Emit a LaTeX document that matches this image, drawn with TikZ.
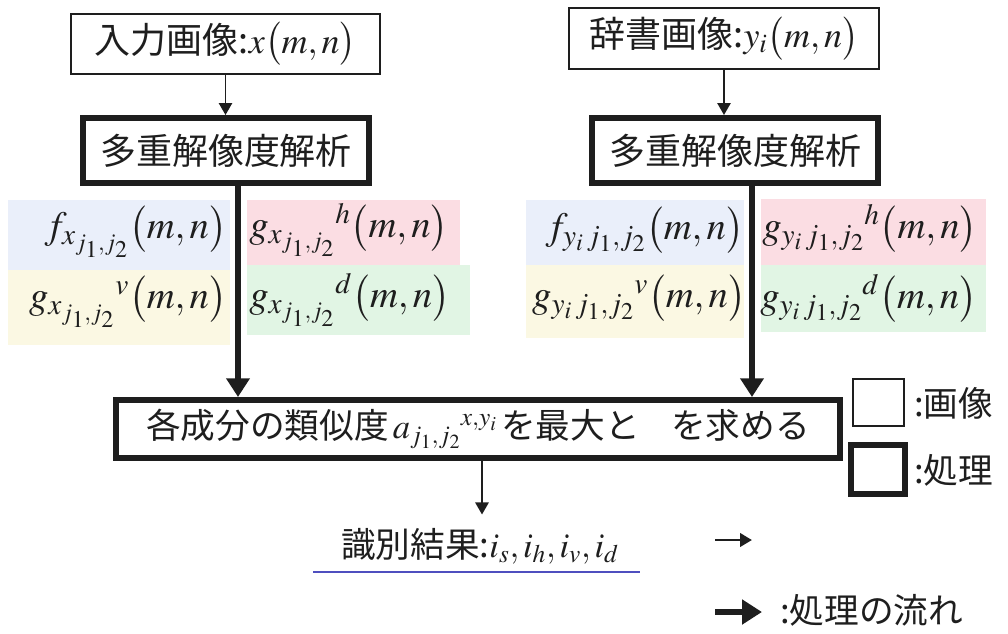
\documentclass[tikz,border=0pt]{standalone}
\usepackage{mathptmx}
\usepackage[no-math]{fontspec}
\setmainfont{Noto Sans CJK JP}
\usetikzlibrary{arrows.meta,calc}
\DeclareMathSizes{26}{26}{19}{15}
\DeclareMathSizes{27}{27}{20}{16}
\DeclareMathSizes{29}{29}{22}{18}
\definecolor{cblue}{HTML}{EAEFFA}
\definecolor{cyellow}{HTML}{FBF8E3}
\definecolor{cpink}{HTML}{FBDDE3}
\definecolor{cgreen}{HTML}{E1F5E4}
\definecolor{ulcol}{HTML}{4F4FBF}
\definecolor{ink}{HTML}{1E1E1E}
\def\pxu{0.75pt}
\tikzset{
  imgbox/.style={draw=ink, line width=1.5pt, fill=white, inner sep=0pt, text=ink,
    font=\fontsize{27}{30}\selectfont},
  procbox/.style={draw=ink, line width=4.5pt, fill=white, inner sep=0pt, text=ink,
    font=\fontsize{27}{30}\selectfont},
  mtext/.style={inner sep=0pt, text=ink, font=\fontsize{29}{32}\selectfont},
  ltext/.style={inner sep=0pt, text=ink, font=\fontsize{26}{29}\selectfont},
  thinarrow/.style={draw=ink, line width=1.3pt, -{Triangle[length=9pt,width=10pt]}},
  thickarrow/.style={draw=ink, line width=3.8pt, -{Triangle[length=14pt,width=17pt]}},
  legthin/.style={draw=ink, line width=2.2pt, -{Triangle[length=9pt,width=10pt]}},
  legthick/.style={draw=ink, line width=4.5pt, -{Triangle[length=15pt,width=18pt]}},
}
\begin{document}
\begin{tikzpicture}[x=0.75pt,y=-0.75pt]
\useasboundingbox (0,0) rectangle (1008,633);
% coloured backgrounds
\fill[cblue] (8,200) rectangle (230,270);
\fill[cyellow] (8,270) rectangle (230,345);
\fill[cpink] (247,200) rectangle (460,265);
\fill[cgreen] (247,265) rectangle (470,335);
\fill[cblue] (526,200) rectangle (744,265);
\fill[cyellow] (526,265) rectangle (744,338);
\fill[cpink] (761,199) rectangle (986,265);
\fill[cgreen] (761,265) rectangle (986,332);
% component texts
\node[mtext, anchor=east] (fx) at (227,232) {$f_{x_{j_1,j_2}}\bigl(m,n\bigr)$};
\node[mtext, anchor=east] (gxv) at (227,302) {$g_{x_{j_1,j_2}}{}^{v}\bigl(m,n\bigr)$};
\node[mtext, anchor=west] (gxh) at (249,230) {$g_{x_{j_1,j_2}}{}^{h}\bigl(m,n\bigr)$};
\node[mtext, anchor=west] (gxd) at (249,300) {$g_{x_{j_1,j_2}}{}^{d}\bigl(m,n\bigr)$};
\node[mtext, anchor=east] (fy) at (744,230) {$f_{y_i\,j_1,j_2}\bigl(m,n\bigr)$};
\node[mtext, anchor=east] (gyv) at (746,298) {$g_{y_i\,j_1,j_2}{}^{v}\bigl(m,n\bigr)$};
\node[mtext, anchor=west] (gyh) at (762,228) {$g_{y_i\,j_1,j_2}{}^{h}\bigl(m,n\bigr)$};
\node[mtext, anchor=west] (gyd) at (760,298) {$g_{y_i\,j_1,j_2}{}^{d}\bigl(m,n\bigr)$};
% boxes
\node[imgbox, minimum width=309*\pxu, minimum height=60*\pxu] (in1) at (225.5,44)
  {入力画像:$x\bigl(m,n\bigr)$};
\node[imgbox, minimum width=310*\pxu, minimum height=61*\pxu] (in2) at (724,38.5)
  {辞書画像:$y_i\bigl(m,n\bigr)$};
\node[procbox, minimum width=286*\pxu, minimum height=65*\pxu] (mra1) at (226,150.5)
  {多重解像度解析};
\node[procbox, minimum width=286*\pxu, minimum height=65*\pxu] (mra2) at (735,150.5)
  {多重解像度解析};
\node[procbox, minimum width=724*\pxu, minimum height=58*\pxu,
  font=\fontsize{26}{29}\selectfont] (big) at (478,429)
  {各成分の類似度$\,a_{j_1,j_2}{}^{x,y_i}\,$を最大と\hspace{0.9em}を求める};
\node[ltext] (res) at (480,546) {識別結果:$i_s,i_h,i_v,i_d$};
\draw[ulcol, line width=1.6pt] (313,572) -- (640,572);
% legend
\node[imgbox, minimum width=51*\pxu, minimum height=47*\pxu] (lg1) at (878.5,402.5) {};
\node[procbox, minimum width=54*\pxu, minimum height=49*\pxu] (lg2) at (878,469.5) {};
\node[ltext, anchor=west] (lgt1) at (914,403) {:画像};
\node[ltext, anchor=west] (lgt2) at (914,470) {:処理};
\coordinate (la1s) at (715,540);
\coordinate (la1e) at (752,540);
\draw[legthin] (la1s) -- (la1e);
\coordinate (la2s) at (715,612);
\coordinate (la2e) at (762,612);
\draw[legthick] (la2s) -- (la2e);
\node[ltext, anchor=west] (lgt3) at (780,610) {:処理の流れ};
% connectors
\draw[thinarrow] (in1.south) -- (in1.south |- mra1.north);
\draw[thinarrow] (in2.south) -- (in2.south |- mra2.north);
\draw[thickarrow] ([xshift=12*\pxu]mra1.south) -- ([xshift=12*\pxu]mra1.south |- big.north);
\draw[thickarrow] ([xshift=17*\pxu]mra2.south) -- ([xshift=17*\pxu]mra2.south |- big.north);
\draw[thinarrow, shorten >=10pt] ([xshift=4*\pxu]big.south) -- ([xshift=4*\pxu]big.south |- res.north);
\end{tikzpicture}
\end{document}
